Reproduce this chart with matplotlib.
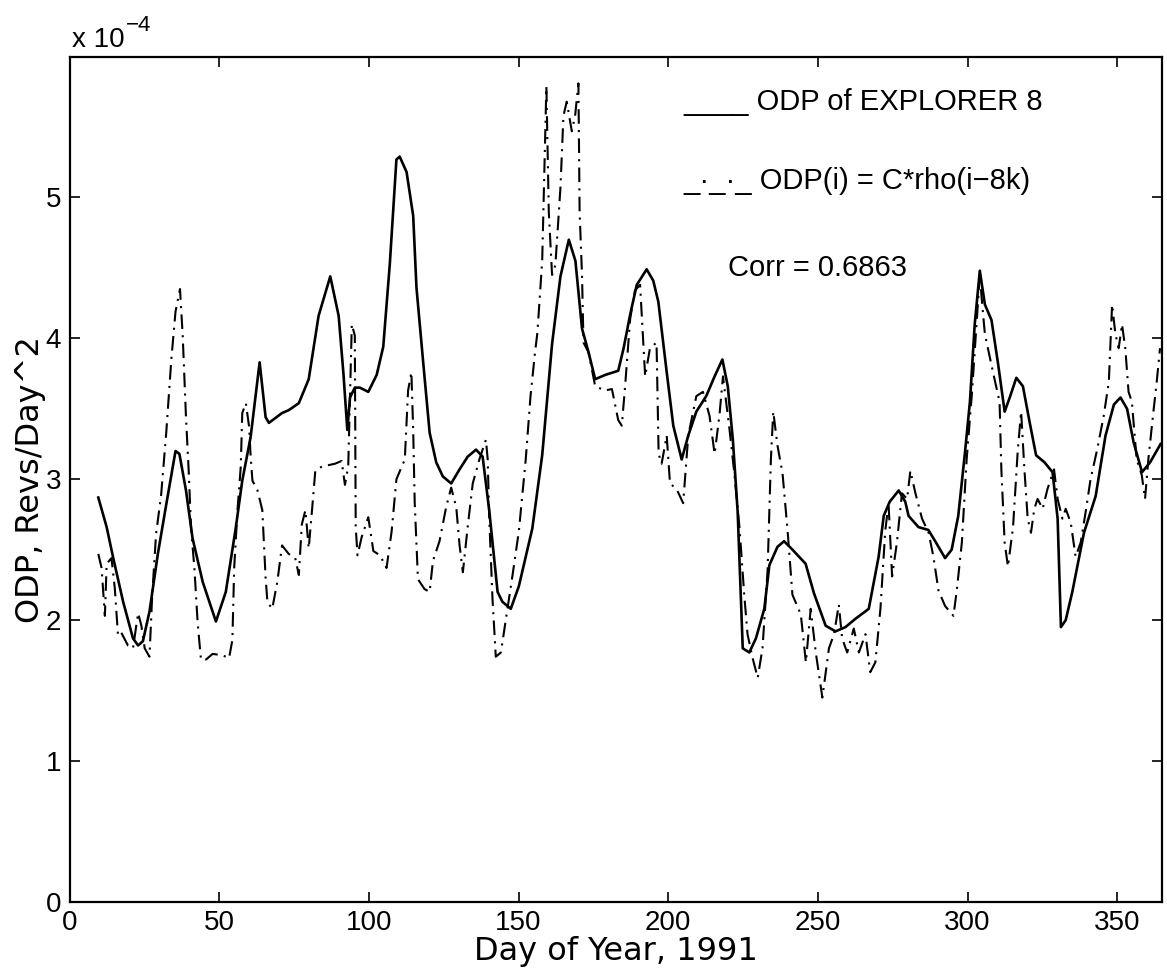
import matplotlib
matplotlib.use("Agg")
import matplotlib.pyplot as plt

# --- DATA (ODP in units of 1e-4 revs/day^2) ---
odp_days = [
    9.6, 12.4, 14.6, 17.9, 21.2, 22.9, 24.5, 26.7, 29.5, 32.3, 35.4, 36.7, 38.9,
    41.1, 44.5, 48.9, 52.2, 55.5, 57.7, 60.5, 63.5, 65.5, 66.6, 71.0, 73.2, 76.6,
    79.9, 83.2, 87.1, 89.9, 91.5, 92.8, 93.7, 95.3, 97.0, 99.8, 102.6, 104.8,
    107.0, 109.2, 110.3, 112.6, 114.8, 115.9, 118.1, 120.3, 122.5, 124.7, 127.5,
    130.3, 133.0, 135.8, 138.0, 140.2, 143.0, 144.6, 147.4, 150.1, 154.6, 157.9,
    161.2, 164.0, 166.8, 169.0, 171.2, 173.4, 175.6, 178.9, 183.3, 185.1, 187.3,
    189.5, 192.8, 195.0, 196.7, 199.5, 201.7, 204.5, 206.7, 209.4, 212.7, 215.5,
    218.1, 219.9, 221.6, 223.2, 224.9, 227.1, 229.3, 232.1, 233.8, 236.5, 238.7,
    241.5, 245.9, 248.7, 252.6, 255.9, 259.2, 262.6, 267.0, 270.3, 272.0, 274.0,
    277.0, 279.2, 280.3, 283.6, 286.9, 289.2, 292.5, 294.7, 296.9, 299.1, 300.8,
    302.4, 304.1, 305.8, 308.0, 310.2, 312.4, 314.1, 316.3, 318.5, 320.7, 322.9,
    325.7, 328.4, 330.1, 331.2, 332.8, 335.0, 338.9, 342.8, 346.1, 348.9, 351.1,
    353.3, 355.5, 358.3, 361.0, 364.5,
]
odp_vals = [
    2.87, 2.66, 2.44, 2.13, 1.87, 1.82, 1.85, 2.06, 2.47, 2.82, 3.20, 3.18, 2.92,
    2.58, 2.27, 1.99, 2.20, 2.65, 2.99, 3.30, 3.83, 3.44, 3.40, 3.47, 3.49, 3.54,
    3.71, 4.16, 4.44, 4.16, 3.75, 3.35, 3.58, 3.65, 3.65, 3.62, 3.74, 3.94,
    4.53, 5.27, 5.29, 5.18, 4.87, 4.36, 3.84, 3.33, 3.12, 3.02, 2.97,
    3.07, 3.16, 3.21, 3.16, 2.78, 2.20, 2.13, 2.08, 2.24, 2.65, 3.17,
    3.96, 4.44, 4.70, 4.55, 4.07, 3.90, 3.71, 3.74, 3.77, 3.93, 4.17,
    4.38, 4.49, 4.41, 4.26, 3.76, 3.38, 3.14, 3.31, 3.48, 3.59, 3.73,
    3.85, 3.66, 3.28, 2.77, 1.80, 1.77, 1.87, 2.08, 2.39, 2.52, 2.56,
    2.50, 2.40, 2.19, 1.96, 1.92, 1.95, 2.01, 2.08, 2.45, 2.74, 2.84,
    2.92, 2.84, 2.74, 2.66, 2.64, 2.56, 2.44, 2.50, 2.74, 3.18, 3.55,
    4.10, 4.48, 4.24, 4.13, 3.82, 3.48, 3.58, 3.72, 3.66, 3.41, 3.17,
    3.12, 3.05, 2.72, 1.95, 2.00, 2.20, 2.62, 2.88, 3.31, 3.53, 3.58,
    3.50, 3.26, 3.05, 3.12, 3.25,
]

rho_days = [
    9.6, 10.7, 11.8, 12.4, 14.0, 15.1, 16.2, 17.3, 19.5, 21.2, 22.9, 24.0, 25.1,
    26.7, 27.6, 28.9, 30.6, 32.3, 34.0, 35.4, 36.9, 37.8, 38.9, 39.8, 40.6, 41.7,
    42.8, 43.9, 45.6, 47.8, 51.1, 53.3, 54.4, 55.0, 56.1, 57.2, 57.7, 58.9, 60.0,
    60.5, 61.1, 62.8, 64.4, 65.5, 66.1, 67.7, 69.4, 71.0, 73.2, 75.4, 76.6, 77.6,
    78.8, 79.9, 81.0, 82.1, 84.3, 88.7, 90.9, 92.0, 93.1, 94.3, 95.3, 95.6, 96.2,
    97.6, 99.8, 101.5, 103.7, 105.9, 107.6, 109.2, 112.0, 113.1, 114.2, 114.8,
    115.3, 116.4, 118.6, 120.3, 121.4, 123.6, 125.8, 127.5, 129.2, 130.3, 131.4,
    133.0, 134.7, 136.9, 139.1, 139.7, 140.2, 141.3, 142.4, 144.1, 145.8, 148.0,
    150.1, 152.4, 154.0, 155.5, 156.3, 157.9, 158.5, 159.3, 160.1, 161.2, 162.3,
    164.0, 165.0, 166.1, 167.8, 168.9, 170.0, 170.4, 171.2, 171.7, 173.4, 175.6,
    178.9, 181.2, 183.3, 184.5, 185.6, 187.3, 188.9, 190.6, 192.3, 193.9, 196.1,
    196.8, 197.8, 199.5, 200.6, 202.8, 205.0, 206.7, 209.4, 211.6, 213.8, 215.5,
    217.1, 218.3, 220.5, 222.1, 223.8, 225.4, 226.5, 228.2, 229.9, 231.5, 233.2,
    234.3, 235.1, 236.5, 238.2, 239.9, 241.5, 244.3, 246.0, 247.6, 249.3, 251.5,
    253.7, 255.4, 257.0, 258.1, 259.8, 262.0, 263.7, 265.9, 267.5, 269.2, 270.9,
    272.5, 273.6, 274.8, 276.4, 278.1, 279.8, 280.9, 282.6, 284.8, 287.0, 288.6,
    290.3, 292.5, 295.3, 296.4, 298.1, 299.7, 301.4, 303.0, 304.1, 304.9, 305.8,
    307.1, 308.5, 310.7, 311.3, 312.4, 313.5, 315.2, 316.8, 317.9, 319.0, 320.1,
    321.2, 322.3, 323.4, 325.1, 326.7, 328.9, 330.1, 331.7, 332.8, 334.5, 336.1,
    337.8, 339.4, 341.1, 343.3, 345.5, 347.2, 348.3, 349.4, 350.5, 351.6, 352.7,
    353.8, 354.9, 356.5, 358.2, 359.3, 360.4, 362.1, 363.2, 364.3,
]
rho_vals = [
    2.47, 2.37, 2.03, 2.40, 2.44, 2.23, 1.89, 1.91, 1.82, 1.80, 2.05, 1.96, 1.80,
    1.74, 2.17, 2.61, 2.89, 3.33, 3.85, 4.19, 4.35, 4.02, 3.44, 3.06, 2.65, 2.37,
    1.98, 1.72, 1.72, 1.76, 1.75, 1.73, 1.86, 2.37, 2.78, 3.09, 3.47, 3.54, 3.37,
    3.16, 2.99, 2.92, 2.78, 2.30, 2.13, 2.08, 2.27, 2.53, 2.47, 2.44, 2.32, 2.68,
    2.78, 2.51, 2.78, 3.06, 3.09, 3.11, 3.13, 2.96, 3.09, 4.10, 4.02, 2.66, 2.46,
    2.59, 2.73, 2.49, 2.46, 2.37, 2.63, 3.00, 3.14, 3.63, 3.76, 3.35,
    2.84, 2.29, 2.22, 2.20, 2.42, 2.56, 2.80, 2.94, 2.80, 2.53, 2.34,
    2.66, 2.97, 3.14, 3.28, 3.14, 2.73, 2.15, 1.74, 1.77, 2.01, 2.32,
    2.63, 3.14, 3.59, 3.90, 4.04, 4.55, 5.07, 5.79, 4.90, 4.45, 4.52,
    5.07, 5.58, 5.68, 5.47, 5.58, 5.81, 4.90, 4.45, 3.97, 3.90, 3.66,
    3.63, 3.64, 3.42, 3.38, 3.66, 4.14, 4.34, 4.38, 3.73, 3.93, 3.97,
    3.18, 3.11, 3.31, 2.97, 2.93, 2.83, 3.31, 3.59, 3.62, 3.45, 3.18,
    3.45, 3.73, 3.35, 3.04, 2.66, 2.18, 1.90, 1.73, 1.59, 1.80, 2.35,
    3.14, 3.48, 3.24, 3.04, 2.63, 2.18, 2.04, 1.70, 2.08, 1.77, 1.45,
    1.80, 1.90, 2.11, 1.87, 1.77, 1.94, 1.77, 1.90, 1.63, 1.70, 2.08,
    2.63, 2.83, 2.31, 2.55, 2.90, 2.86, 3.06, 2.90, 2.72, 2.62, 2.45,
    2.21, 2.10, 2.03, 2.21, 2.55, 3.14, 3.59, 4.10, 4.45, 4.24, 4.03,
    3.90, 3.76, 3.55, 3.07, 2.55, 2.38, 2.66, 3.21, 3.48, 3.07, 2.72,
    2.62, 2.79, 2.86, 2.79, 2.93, 3.07, 2.86, 2.72, 2.79, 2.69, 2.45,
    2.55, 2.76, 3.00, 3.21, 3.45, 3.69, 4.24, 4.03, 3.93, 4.10, 3.93,
    3.62, 3.55, 3.14, 3.03, 2.86, 3.14, 3.48, 3.69, 3.93,
]

x_ticks = [0, 50, 100, 150, 200, 250, 300, 350]
y_ticks = [0, 1, 2, 3, 4, 5]

plt.rcParams["font.family"] = ["Liberation Sans", "DejaVu Sans"]

fig = plt.figure(figsize=(11.67, 9.76), dpi=100)
ax = fig.add_axes([0.0596, 0.076, 0.9362, 0.866])

ax.plot(odp_days, odp_vals, color="black", lw=1.9, solid_joinstyle="round")
ax.plot(rho_days, rho_vals, color="black", lw=1.5, linestyle=(0, (7, 3, 1, 3)))

ax.set_xlim(0, 365)
ax.set_ylim(0, 6)
ax.set_xticks(x_ticks)
ax.set_yticks(y_ticks)
ax.tick_params(direction="in", length=7, width=1.2, top=True, right=True,
               labelsize=20, pad=6)
for sp in ax.spines.values():
    sp.set_linewidth(1.6)

label_font = {"family": ["DejaVu Sans"], "size": 23}
ax.set_xlabel("Day of Year, 1991", fontdict=label_font, labelpad=0)
ax.set_ylabel("ODP, Revs/Day^2", fontdict=label_font, labelpad=0)

# exponent marker above the y axis
base = ax.text(0.002, 1.011, "x 10", transform=ax.transAxes,
               fontsize=20, ha="left", va="baseline")
ax.annotate("\u22124", xy=(1, 1), xycoords=base, xytext=(1, -6),
            textcoords="offset points", fontsize=16, ha="left", va="bottom")

# annotation "legend" drawn as plain text, as in the original
ax.text(205, 5.62, "____ ODP of EXPLORER 8", fontsize=21, va="baseline")
ax.text(205, 5.06, "_\u00b7_\u00b7_ ODP(i) = C*rho(i\u22128k)", fontsize=21, va="baseline")
ax.text(220, 4.44, "Corr = 0.6863", fontsize=21, va="baseline")

fig.savefig("out.png", dpi=100)
